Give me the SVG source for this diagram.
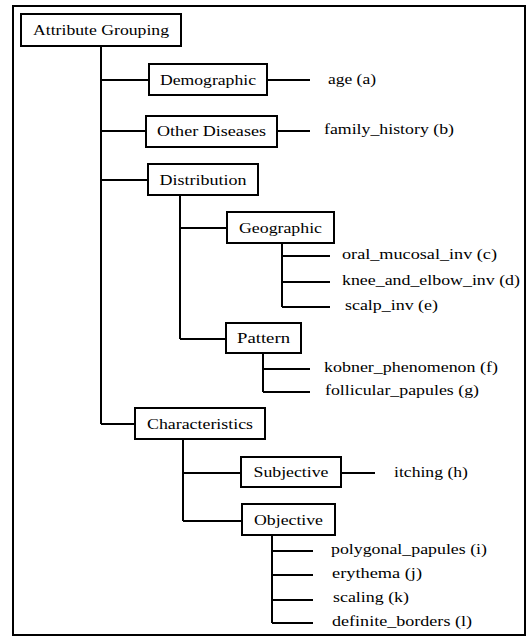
<svg xmlns="http://www.w3.org/2000/svg" width="529" height="637" viewBox="0 0 529 637">
<style>
.frame{fill:#fff;stroke:#000;stroke-width:2}
.box{fill:#fff;stroke:#000;stroke-width:2}
.conn{fill:none;stroke:#000;stroke-width:2}
text{font-family:"Liberation Serif","DejaVu Serif","Times New Roman",serif;font-size:14px;fill:#000}
.c{text-anchor:middle}
</style>
<rect class="frame" x="13" y="6" width="512" height="629"/>
<g id="connectors" class="conn">
<path d="M101 46V424M101 80H149M101 131H146M101 180H148M101 424H135"/>
<path d="M267 80H310M277 131H310"/>
<path d="M180 195V339M180 228H227M180 339H226"/>
<path d="M282 243V307M282 256H330M282 282H330M282 307H330"/>
<path d="M263 353V392M263 369H310M263 392H310"/>
<path d="M183 439V521M183 473H241M183 521H242M341 473H375"/>
<path d="M272 535V623M272 551H313M272 575H313M272 600H313M272 623H313"/>
</g>
<g id="attribute-grouping"><rect class="box" x="21" y="14" width="160" height="32"/><text class="c" x="101" y="35" textLength="136" lengthAdjust="spacingAndGlyphs">Attribute Grouping</text></g>
<g id="demographic"><rect class="box" x="149" y="64" width="118" height="31"/><text class="c" x="208" y="84.5" textLength="96" lengthAdjust="spacingAndGlyphs">Demographic</text></g>
<g id="other-diseases"><rect class="box" x="146" y="116" width="131" height="31"/><text class="c" x="211.5" y="136" textLength="109" lengthAdjust="spacingAndGlyphs">Other Diseases</text></g>
<g id="distribution"><rect class="box" x="148" y="164" width="110" height="31"/><text class="c" x="203" y="184.5" textLength="87" lengthAdjust="spacingAndGlyphs">Distribution</text></g>
<g id="geographic"><rect class="box" x="227" y="212" width="107" height="31"/><text class="c" x="280.5" y="232.5" textLength="83" lengthAdjust="spacingAndGlyphs">Geographic</text></g>
<g id="pattern"><rect class="box" x="226" y="323" width="75" height="30"/><text class="c" x="263.5" y="343" textLength="53" lengthAdjust="spacingAndGlyphs">Pattern</text></g>
<g id="characteristics"><rect class="box" x="135" y="408" width="130" height="31"/><text class="c" x="200" y="428.5" textLength="106" lengthAdjust="spacingAndGlyphs">Characteristics</text></g>
<g id="subjective"><rect class="box" x="241" y="457" width="100" height="30"/><text class="c" x="291" y="477" textLength="75" lengthAdjust="spacingAndGlyphs">Subjective</text></g>
<g id="objective"><rect class="box" x="242" y="504" width="93" height="31"/><text class="c" x="288.5" y="524.5" textLength="69" lengthAdjust="spacingAndGlyphs">Objective</text></g>
<g id="age"><text x="328" y="84" textLength="48" lengthAdjust="spacingAndGlyphs">age (a)</text></g>
<g id="family-history"><text x="324" y="134" textLength="130" lengthAdjust="spacingAndGlyphs">family_history (b)</text></g>
<g id="oral-mucosal-inv"><text x="342" y="259" textLength="155" lengthAdjust="spacingAndGlyphs">oral_mucosal_inv (c)</text></g>
<g id="knee-and-elbow-inv"><text x="342" y="285" textLength="178" lengthAdjust="spacingAndGlyphs">knee_and_elbow_inv (d)</text></g>
<g id="scalp-inv"><text x="345" y="310" textLength="93" lengthAdjust="spacingAndGlyphs">scalp_inv (e)</text></g>
<g id="kobner-phenomenon"><text x="324" y="372" textLength="174" lengthAdjust="spacingAndGlyphs">kobner_phenomenon (f)</text></g>
<g id="follicular-papules"><text x="325" y="395" textLength="154" lengthAdjust="spacingAndGlyphs">follicular_papules (g)</text></g>
<g id="itching"><text x="394" y="477" textLength="74" lengthAdjust="spacingAndGlyphs">itching (h)</text></g>
<g id="polygonal-papules"><text x="331" y="554" textLength="156" lengthAdjust="spacingAndGlyphs">polygonal_papules (i)</text></g>
<g id="erythema"><text x="332" y="578" textLength="90" lengthAdjust="spacingAndGlyphs">erythema (j)</text></g>
<g id="scaling"><text x="333" y="602" textLength="76" lengthAdjust="spacingAndGlyphs">scaling (k)</text></g>
<g id="definite-borders"><text x="332" y="626" textLength="140" lengthAdjust="spacingAndGlyphs">definite_borders (l)</text></g>
</svg>
